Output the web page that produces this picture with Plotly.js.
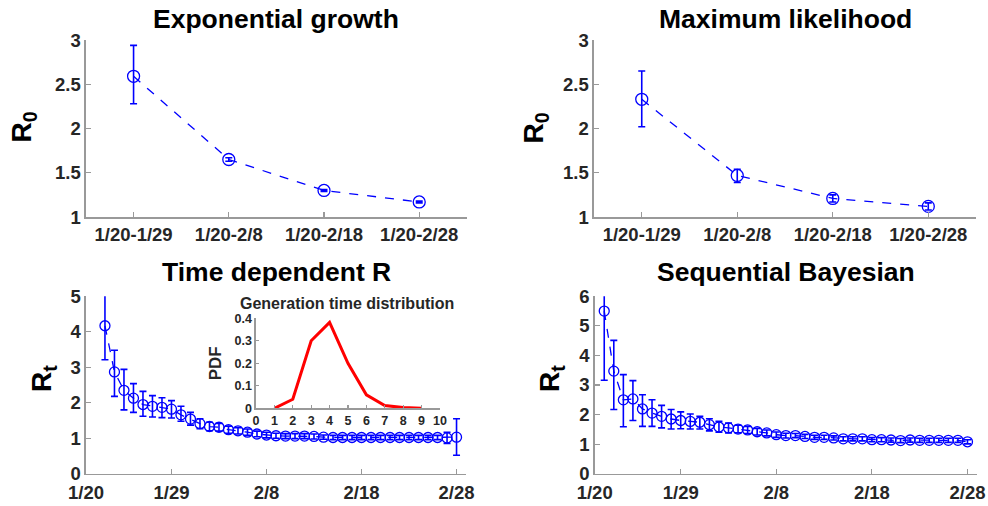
<!DOCTYPE html>
<html>
<head>
<meta charset="utf-8">
<script src="https://cdn.plot.ly/plotly-3.0.1.min.js"></script>
<style>html,body{margin:0;padding:0;background:#fff;}#chart{width:988px;height:506px;}</style>
</head>
<body>
<div id="chart"></div>
<script>
// ---- Top panels: cumulative windows ----
const windowLabels = ['1/20-1/29', '1/20-2/8', '1/20-2/18', '1/20-2/28'];
const windowIdx = [1, 2, 3, 4];

const egR0 = [2.59, 1.65, 1.30, 1.17];
const egLo = [2.28, 1.63, 1.29, 1.16];
const egHi = [2.94, 1.67, 1.31, 1.18];

const mlR0 = [2.33, 1.47, 1.21, 1.12];
const mlLo = [2.02, 1.39, 1.17, 1.08];
const mlHi = [2.65, 1.54, 1.25, 1.16];

// ---- Bottom panels: daily estimates (day offset from 1/20) ----
const dateTickVals = [0, 9, 19, 29, 39];
const dateTickText = ['1/20', '1/29', '2/8', '2/18', '2/28'];

const tdDays = [2,3,4,5,6,7,8,9,10,11,12,13,14,15,16,17,18,19,20,21,22,23,24,25,26,27,28,29,30,31,32,33,34,35,36,37,38,39];
const tdR  = [4.17,2.87,2.35,2.13,1.95,1.90,1.87,1.82,1.66,1.54,1.41,1.33,1.31,1.24,1.21,1.17,1.12,1.09,1.07,1.06,1.06,1.06,1.05,1.03,1.02,1.02,1.02,1.02,1.02,1.02,1.02,1.02,1.02,1.02,1.02,1.02,1.01,1.03];
const tdLo = [3.21,2.18,1.80,1.73,1.62,1.60,1.58,1.57,1.48,1.37,1.27,1.21,1.20,1.14,1.12,1.08,1.04,1.01,1.00,0.99,0.99,0.99,0.98,0.97,0.96,0.96,0.96,0.96,0.96,0.96,0.96,0.96,0.96,0.96,0.96,0.96,0.85,0.52];
const tdHi = [5.30,3.48,2.94,2.54,2.32,2.20,2.14,2.06,1.90,1.73,1.55,1.45,1.42,1.34,1.30,1.26,1.20,1.17,1.14,1.13,1.13,1.13,1.12,1.09,1.08,1.08,1.08,1.08,1.08,1.08,1.08,1.08,1.08,1.08,1.08,1.08,1.17,1.55];

const sbDays = [1,2,3,4,5,6,7,8,9,10,11,12,13,14,15,16,17,18,19,20,21,22,23,24,25,26,27,28,29,30,31,32,33,34,35,36,37,38,39];
const sbR  = [5.50,3.47,2.50,2.53,2.19,2.05,1.94,1.85,1.80,1.77,1.74,1.66,1.58,1.55,1.51,1.48,1.42,1.38,1.32,1.29,1.29,1.26,1.23,1.23,1.21,1.18,1.18,1.18,1.15,1.15,1.14,1.12,1.14,1.13,1.13,1.13,1.13,1.13,1.08];
const sbLo = [3.16,2.17,1.59,1.80,1.60,1.60,1.55,1.51,1.52,1.51,1.51,1.45,1.40,1.38,1.38,1.36,1.31,1.28,1.23,1.21,1.22,1.19,1.16,1.16,1.14,1.11,1.11,1.11,1.08,1.08,1.07,1.05,1.07,1.06,1.06,1.06,1.06,1.06,1.01];
const sbHi = [6.30,4.51,3.35,3.15,2.67,2.50,2.31,2.17,2.09,2.02,1.94,1.86,1.77,1.71,1.64,1.60,1.53,1.48,1.41,1.37,1.36,1.33,1.30,1.30,1.28,1.25,1.25,1.25,1.22,1.22,1.21,1.19,1.21,1.20,1.20,1.20,1.20,1.20,1.15];

// ---- Inset: generation time distribution ----
const gtDays = [1, 2, 3, 4, 5, 6, 7, 8, 9];
const gtPdf  = [0.0, 0.04, 0.30, 0.382, 0.20, 0.06, 0.012, 0.003, 0.0];

const FONT = 'Liberation Sans, Arial, Helvetica, sans-serif';
const BLUE = '#0000ff';
const AXC = '#999999';
const TXT = '#262626';

function plus(v, hi) { return v.map((x, i) => hi[i] - x); }
function minus(v, lo) { return v.map((x, i) => x - lo[i]); }

function errTrace(x, y, lo, hi, xa, ya, msize) {
  return {
    type: 'scatter', mode: 'lines+markers', x: x, y: y, xaxis: xa, yaxis: ya,
    line: {color: BLUE, width: 1.3, dash: 'dash'},
    marker: {symbol: 'circle-open', size: msize, color: BLUE, line: {width: 1.3, color: BLUE}},
    error_y: {type: 'data', symmetric: false, array: plus(y, hi), arrayminus: minus(y, lo),
              color: BLUE, thickness: 1.6, width: 3.5},
    showlegend: false, hoverinfo: 'x+y'
  };
}

const traces = [
  errTrace(windowIdx, egR0, egLo, egHi, 'x', 'y', 12),
  errTrace(windowIdx, mlR0, mlLo, mlHi, 'x2', 'y2', 12),
  errTrace(tdDays, tdR, tdLo, tdHi, 'x3', 'y3', 10),
  errTrace(sbDays, sbR, sbLo, sbHi, 'x4', 'y4', 10),
  {type: 'scatter', mode: 'lines', x: gtDays, y: gtPdf, xaxis: 'x5', yaxis: 'y5',
   line: {color: '#ff0000', width: 3}, showlegend: false}
];

function baseAxis(extra) {
  return Object.assign({
    showline: true, linecolor: AXC, linewidth: 1.5, mirror: false,
    ticks: 'inside', ticklen: 5, tickwidth: 1.2, tickcolor: AXC,
    showgrid: false, zeroline: false, fixedrange: true,
    tickfont: {family: FONT, size: 18.5, color: TXT, weight: 'bold'}
  }, extra);
}

const topY = [0.5711, 0.9209];
const botY = [0.0638, 0.4144];

const layout = {
  width: 988, height: 506,
  margin: {l: 0, r: 0, t: 0, b: 0},
  paper_bgcolor: '#ffffff', plot_bgcolor: 'rgba(0,0,0,0)',
  font: {family: FONT, color: TXT},
  xaxis:  baseAxis({domain: [0.0870, 0.4725], anchor: 'y', range: [0.5, 4.5], tickvals: windowIdx, ticktext: windowLabels}),
  yaxis:  baseAxis({domain: topY, anchor: 'x', range: [1, 3], tickvals: [1, 1.5, 2, 2.5, 3], ticktext: ['1', '1.5', '2', '2.5', '3']}),
  xaxis2: baseAxis({domain: [0.6012, 0.9879], anchor: 'y2', range: [0.5, 4.5], tickvals: windowIdx, ticktext: windowLabels}),
  yaxis2: baseAxis({domain: topY, anchor: 'x2', range: [1, 3], tickvals: [1, 1.5, 2, 2.5, 3], ticktext: ['1', '1.5', '2', '2.5', '3']}),
  xaxis3: baseAxis({domain: [0.0870, 0.4717], anchor: 'y3', range: [0, 40], tickvals: dateTickVals, ticktext: dateTickText,
                    ticklabelstandoff: 2}),
  yaxis3: baseAxis({domain: botY, anchor: 'x3', range: [0, 5], tickvals: [0, 1, 2, 3, 4, 5]}),
  xaxis4: baseAxis({domain: [0.6019, 0.9889], anchor: 'y4', range: [0, 40], tickvals: dateTickVals, ticktext: dateTickText,
                    ticklabelstandoff: 2}),
  yaxis4: baseAxis({domain: botY, anchor: 'x4', range: [0, 6], tickvals: [0, 1, 2, 3, 4, 5, 6]}),
  xaxis5: baseAxis({domain: [0.2591, 0.4453], anchor: 'y5', range: [0, 10], tickvals: [0,1,2,3,4,5,6,7,8,9,10],
                    ticklen: 3, tickfont: {family: FONT, size: 12.5, color: TXT, weight: 'bold'}}),
  yaxis5: baseAxis({domain: [0.1931, 0.3709], anchor: 'x5', range: [0, 0.4], tickvals: [0, 0.1, 0.2, 0.3, 0.4],
                    ticktext: ['0', '0.1', '0.2', '0.3', '0.4'],
                    ticklen: 3, tickfont: {family: FONT, size: 12.5, color: TXT, weight: 'bold'}}),
  annotations: [
    {text: 'Exponential growth', xref: 'paper', yref: 'paper', x: 0.2794, y: 0.963, xanchor: 'center', yanchor: 'middle', showarrow: false,
     font: {family: FONT, size: 26.5, color: '#000', weight: 'bold'}},
    {text: 'Maximum likelihood', xref: 'paper', yref: 'paper', x: 0.7946, y: 0.963, xanchor: 'center', yanchor: 'middle', showarrow: false,
     font: {family: FONT, size: 26.5, color: '#000', weight: 'bold'}},
    {text: 'Time dependent R', xref: 'paper', yref: 'paper', x: 0.2794, y: 0.462, xanchor: 'center', yanchor: 'middle', showarrow: false,
     font: {family: FONT, size: 26.5, color: '#000', weight: 'bold'}},
    {text: 'Sequential Bayesian', xref: 'paper', yref: 'paper', x: 0.7954, y: 0.462, xanchor: 'center', yanchor: 'middle', showarrow: false,
     font: {family: FONT, size: 26.5, color: '#000', weight: 'bold'}},
    {text: 'Generation time distribution', xref: 'paper', yref: 'paper', x: 0.3515, y: 0.401, xanchor: 'center', yanchor: 'middle', showarrow: false,
     font: {family: FONT, size: 16, color: TXT, weight: 'bold'}},
    {text: 'R<sub>0</sub>', xref: 'paper', yref: 'paper', x: 0.0243, y: 0.748, xanchor: 'center', yanchor: 'middle', textangle: -90, showarrow: false,
     font: {family: FONT, size: 28, color: '#000', weight: 'bold'}},
    {text: 'R<sub>0</sub>', xref: 'paper', yref: 'paper', x: 0.5425, y: 0.748, xanchor: 'center', yanchor: 'middle', textangle: -90, showarrow: false,
     font: {family: FONT, size: 28, color: '#000', weight: 'bold'}},
    {text: 'R<sub>t</sub>', xref: 'paper', yref: 'paper', x: 0.0445, y: 0.253, xanchor: 'center', yanchor: 'middle', textangle: -90, showarrow: false,
     font: {family: FONT, size: 28, color: '#000', weight: 'bold'}},
    {text: 'R<sub>t</sub>', xref: 'paper', yref: 'paper', x: 0.5587, y: 0.253, xanchor: 'center', yanchor: 'middle', textangle: -90, showarrow: false,
     font: {family: FONT, size: 28, color: '#000', weight: 'bold'}},
    {text: 'PDF', xref: 'paper', yref: 'paper', x: 0.2176, y: 0.282, xanchor: 'center', yanchor: 'middle', textangle: -90, showarrow: false,
     font: {family: FONT, size: 17, color: TXT, weight: 'bold'}}
  ]
};

Plotly.newPlot('chart', traces, layout, {staticPlot: true, displayModeBar: false});
</script>
</body>
</html>
